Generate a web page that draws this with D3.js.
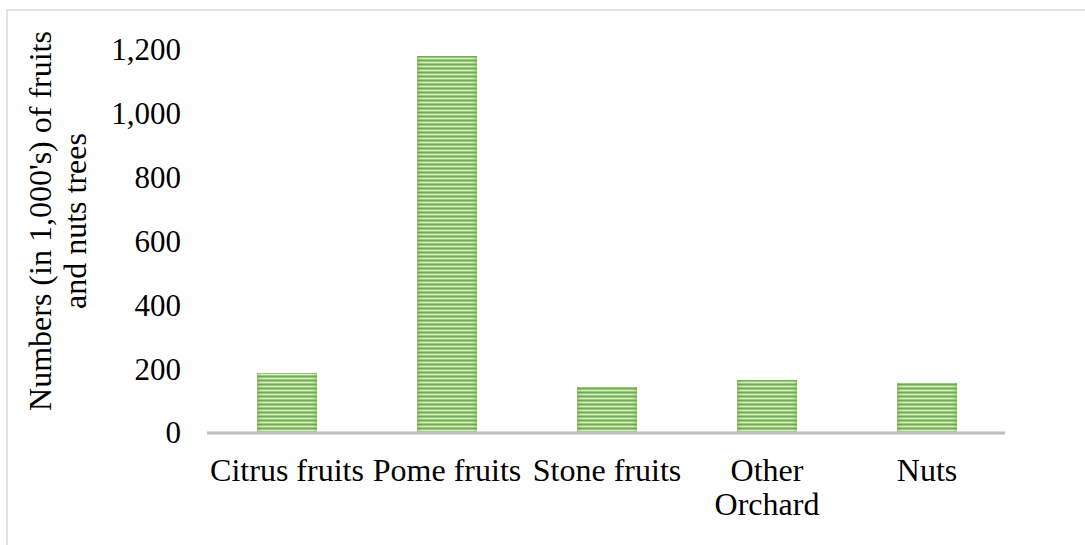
<!DOCTYPE html>
<html>
<head>
<meta charset="utf-8">
<script src="https://cdn.jsdelivr.net/npm/d3@7"></script>
<style>
  html, body { margin: 0; padding: 0; background: #fff; }
  svg { display: block; }
  text { font-family: "Liberation Serif", "Times New Roman", serif; fill: #000; }
</style>
</head>
<body>
<svg id="chart" width="1085" height="545"></svg>
<script>
// Orchard tree counts (thousands) by fruit group
const categories = ["Citrus fruits", "Pome fruits", "Stone fruits", "Other Orchard", "Nuts"];
const categoryLines = [["Citrus fruits"], ["Pome fruits"], ["Stone fruits"], ["Other", "Orchard"], ["Nuts"]];
const treeCounts = [185, 1178, 141, 163, 154];
const yTicks = [0, 200, 400, 600, 800, 1000, 1200];
const yTitleLines = ["Numbers (in 1,000's) of fruits", "and nuts trees"];

const FONT = "'Liberation Serif', 'Times New Roman', serif";
const FS = 32;
const FS_TICK = 31;

const svg = d3.select("#chart");

// Outer frame (open on the right and bottom edges)
svg.append("rect")
  .attr("x", 7).attr("y", 10)
  .attr("width", 1100).attr("height", 560)
  .attr("fill", "none")
  .attr("stroke", "#d9d9d9")
  .attr("stroke-width", 1.5);

// Horizontal stripe fill for the bars
const defs = svg.append("defs");
const pat = defs.append("pattern")
  .attr("id", "stripes")
  .attr("patternUnits", "userSpaceOnUse")
  .attr("width", 8).attr("height", 4);
const stripeRows = ["#6fae48", "#9ccb7f", "#d8ebcb", "#9ccb7f"];
stripeRows.forEach((c, i) => {
  pat.append("rect").attr("x", 0).attr("y", i).attr("width", 8).attr("height", 1).attr("fill", c);
});
const edge = defs.append("linearGradient").attr("id", "edgeShade").attr("x1", 0).attr("x2", 1);
edge.append("stop").attr("offset", 0).attr("stop-color", "#5e9e3a").attr("stop-opacity", 0.35);
edge.append("stop").attr("offset", 0.08).attr("stop-color", "#5e9e3a").attr("stop-opacity", 0);
edge.append("stop").attr("offset", 0.92).attr("stop-color", "#5e9e3a").attr("stop-opacity", 0);
edge.append("stop").attr("offset", 1).attr("stop-color", "#5e9e3a").attr("stop-opacity", 0.35);

const x = d3.scaleBand()
  .domain(categories)
  .range([207, 1007])
  .paddingInner(0.625)
  .paddingOuter(0.3125);

const y = d3.scaleLinear()
  .domain([0, 1200])
  .range([432, 49]);

// Y tick labels (no axis line)
const yAxis = d3.axisLeft(y)
  .tickValues(yTicks)
  .tickFormat(d3.format(","))
  .tickSize(0)
  .tickPadding(0);
const gy = svg.append("g").attr("transform", "translate(181,0)").call(yAxis);
gy.attr("font-family", FONT).attr("font-size", FS_TICK);
gy.select(".domain").remove();
gy.selectAll("text")
  .attr("fill", "#000")
  .attr("dy", "0.35em");

// Bars
const bars = svg.append("g");
bars.selectAll("rect.bar")
  .data(treeCounts)
  .join("rect")
  .attr("class", "bar")
  .attr("x", (d, i) => x(categories[i]))
  .attr("y", d => y(d))
  .attr("width", x.bandwidth())
  .attr("height", d => y(0) - y(d))
  .attr("fill", "url(#stripes)");
bars.selectAll("rect.shade")
  .data(treeCounts)
  .join("rect")
  .attr("class", "shade")
  .attr("x", (d, i) => x(categories[i]))
  .attr("y", d => y(d))
  .attr("width", x.bandwidth())
  .attr("height", d => y(0) - y(d))
  .attr("fill", "url(#edgeShade)");

// Baseline
svg.append("line")
  .attr("x1", 207).attr("x2", 1005)
  .attr("y1", y(0) + 1).attr("y2", y(0) + 1)
  .attr("stroke", "#bfbfbf")
  .attr("stroke-width", 3);

// Category labels
const xl = svg.append("g").attr("font-family", FONT).attr("font-size", FS);
categories.forEach((c, i) => {
  const t = xl.append("text")
    .attr("x", x(c) + x.bandwidth() / 2)
    .attr("y", 481)
    .attr("text-anchor", "middle");
  categoryLines[i].forEach((line, j) => {
    t.append("tspan")
      .attr("x", x(c) + x.bandwidth() / 2)
      .attr("dy", j === 0 ? 0 : 34)
      .text(line);
  });
});

// Y axis title
const yt = svg.append("text")
  .attr("transform", "translate(51,221) rotate(-90)")
  .attr("text-anchor", "middle")
  .attr("font-family", FONT)
  .attr("font-size", FS);
yTitleLines.forEach((line, j) => {
  yt.append("tspan")
    .attr("x", 0)
    .attr("dy", j === 0 ? 0 : 35)
    .text(line);
});
</script>
</body>
</html>
